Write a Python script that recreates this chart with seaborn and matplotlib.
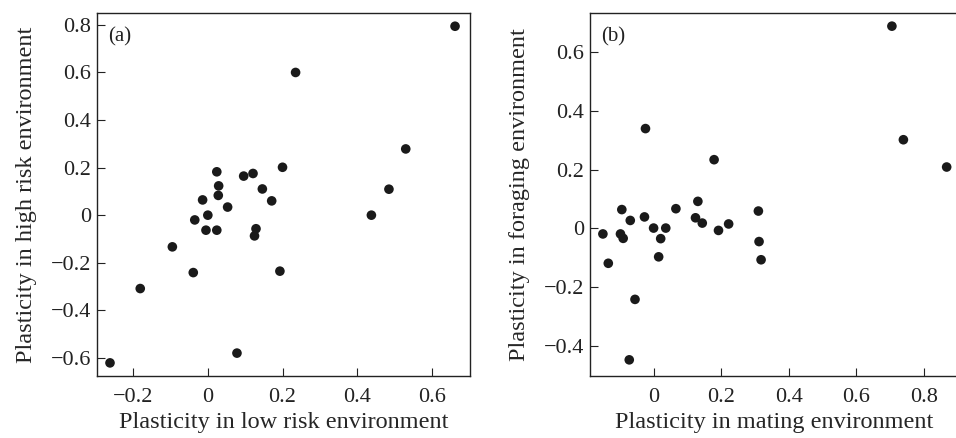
import pandas as pd
import seaborn as sns
import matplotlib.pyplot as plt

# Panel (a): low risk vs high risk plasticity
low_risk = [0.662, 0.235, 0.530, 0.485, 0.438, 0.200, 0.024, 0.096, 0.121, 0.029,
            0.146, 0.028, 0.171, -0.014, 0.053, 0.000, -0.035, -0.005, 0.024, 0.129,
            0.125, -0.095, -0.039, 0.193, -0.181, 0.078, -0.262]
high_risk = [0.793, 0.599, 0.278, 0.109, 0.000, 0.201, 0.182, 0.164, 0.175, 0.123,
             0.110, 0.083, 0.060, 0.064, 0.034, 0.000, -0.020, -0.063, -0.063, -0.057,
             -0.087, -0.133, -0.241, -0.235, -0.308, -0.579, -0.620]

# Panel (b): mating vs foraging plasticity
mating = [0.705, 0.739, 0.867, -0.024, 0.179, 0.131, 0.066, -0.094, 0.310, -0.027,
          0.124, -0.069, 0.144, 0.222, 0.000, 0.036, 0.192, -0.150, -0.098, -0.090,
          0.021, 0.312, 0.318, 0.015, -0.134, -0.055, -0.072]
foraging = [0.689, 0.302, 0.209, 0.340, 0.234, 0.092, 0.067, 0.064, 0.059, 0.039,
            0.036, 0.027, 0.018, 0.015, 0.001, 0.001, -0.007, -0.019, -0.019, -0.034,
            -0.035, -0.045, -0.107, -0.097, -0.119, -0.242, -0.448]

df_a = pd.DataFrame({'low': low_risk, 'high': high_risk})
df_b = pd.DataFrame({'mating': mating, 'foraging': foraging})

sns.set_style('ticks')
plt.rcParams['font.family'] = ['Liberation Serif', 'DejaVu Serif']
plt.rcParams['axes.edgecolor'] = '#222222'
plt.rcParams['axes.linewidth'] = 1.0
plt.rcParams['xtick.direction'] = 'in'
plt.rcParams['ytick.direction'] = 'in'
plt.rcParams['xtick.major.size'] = 5.5
plt.rcParams['ytick.major.size'] = 5.5
plt.rcParams['xtick.color'] = '#222222'
plt.rcParams['ytick.color'] = '#222222'
plt.rcParams['text.color'] = '#222222'

fig = plt.figure(figsize=(9.56, 4.38), dpi=100)
ax1 = fig.add_axes([0.101, 0.1416, 0.3906, 0.8295])
ax2 = fig.add_axes([0.6172, 0.1416, 0.3847, 0.8295])

dot = dict(color='#1a1a1a', s=48, edgecolor='none')

sns.scatterplot(data=df_a, x='low', y='high', ax=ax1, **dot)
ax1.set_xlim(-0.298, 0.702)
ax1.set_ylim(-0.675, 0.85)
ax1.set_xticks([-0.2, 0, 0.2, 0.4, 0.6])
ax1.set_xticklabels(['\u22120.2', '0', '0.2', '0.4', '0.6'])
ax1.set_yticks([-0.6, -0.4, -0.2, 0, 0.2, 0.4, 0.6, 0.8])
ax1.set_yticklabels(['\u22120.6', '\u22120.4', '\u22120.2', '0', '0.2', '0.4', '0.6', '0.8'])
ax1.set_xlabel('Plasticity in low risk environment', fontsize=17.5, labelpad=4)
ax1.set_ylabel('Plasticity in high risk environment', fontsize=17.5, labelpad=10)
ax1.text(0.03, 0.96, '(a)', transform=ax1.transAxes, fontsize=15, va='top')

sns.scatterplot(data=df_b, x='mating', y='foraging', ax=ax2, **dot)
ax2.set_xlim(-0.188, 0.9)
ax2.set_ylim(-0.503, 0.735)
ax2.set_xticks([0, 0.2, 0.4, 0.6, 0.8])
ax2.set_xticklabels(['0', '0.2', '0.4', '0.6', '0.8'])
ax2.set_yticks([-0.4, -0.2, 0, 0.2, 0.4, 0.6])
ax2.set_yticklabels(['\u22120.4', '\u22120.2', '0', '0.2', '0.4', '0.6'])
ax2.set_xlabel('Plasticity in mating environment', fontsize=17.5, labelpad=4)
ax2.set_ylabel('Plasticity in foraging environment', fontsize=17.5, labelpad=10)
ax2.text(0.03, 0.96, '(b)', transform=ax2.transAxes, fontsize=15, va='top')

for ax in (ax1, ax2):
    ax.tick_params(axis='y', labelsize=16, pad=4)
    ax.tick_params(axis='x', labelsize=16, pad=8.5)
    for sp in ax.spines.values():
        sp.set_visible(True)

plt.savefig('out.png', dpi=100)
